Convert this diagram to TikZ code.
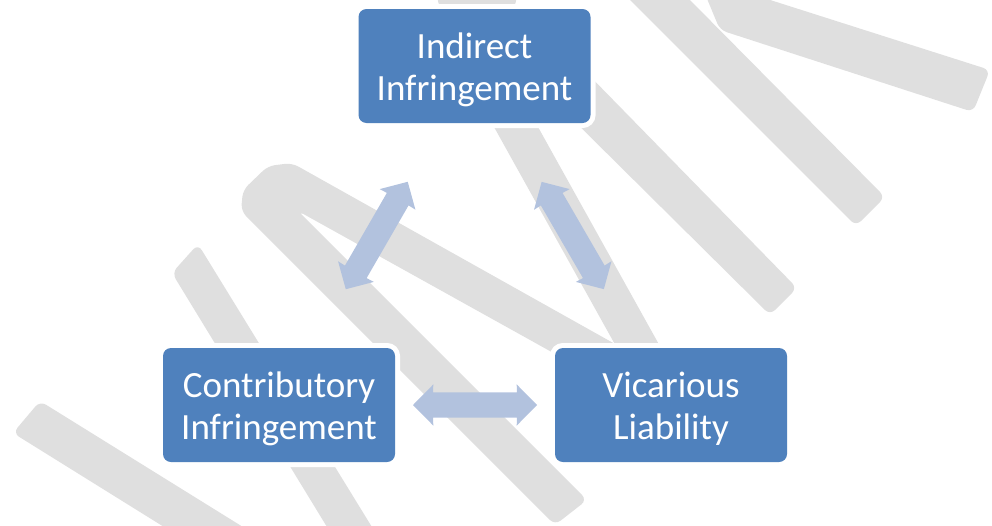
\documentclass[tikz,border=0pt]{standalone}
\usepackage{fontspec}
\setmainfont{Carlito}
\usetikzlibrary{calc}
\definecolor{boxblue}{RGB}{79,129,189}
\definecolor{arrowblue}{RGB}{178,194,222}
\definecolor{wmgray}{RGB}{223,223,223}
\newcommand\topstrut{\rule{0pt}{33pt}}
\tikzset{
  box/.style={rectangle, rounded corners=8pt, fill=boxblue, text=white,
    minimum width=232pt, minimum height=114pt, inner sep=0pt, align=center,
    font=\fontsize{37}{42}\selectfont,
    preaction={draw=white, line width=10pt}},
  band/.style={fill=wmgray, rounded corners=7pt},
  linkfill/.style={fill=arrowblue},
}
\newcommand\linkarrow[2]{%
  \fill[linkfill] ($(#1)!62pt!(#2)$) -- ($(#1)!46.5pt!26.3:(#2)$)
    -- ($(#1)!43.8pt!16.6:(#2)$) -- ($(#1)!43.8pt!163.4:(#2)$)
    -- ($(#1)!46.5pt!153.7:(#2)$) -- ($(#1)!62pt!180:(#2)$)
    -- ($(#1)!46.5pt!-153.7:(#2)$) -- ($(#1)!43.8pt!-163.4:(#2)$)
    -- ($(#1)!43.8pt!-16.6:(#2)$) -- ($(#1)!46.5pt!-26.3:(#2)$) -- cycle;}
\begin{document}
\begin{tikzpicture}[x=1pt,y=-1pt]
\useasboundingbox (0,0) rectangle (992,525);
\clip (0,0) rectangle (992,525);
% watermark strokes
\fill[band] (625,-5) -- (685,-5) -- (885,197) -- (856,226) -- cycle;
\fill[band] (698,-23) -- (990,70) -- (973,112) -- (720,30) -- cycle;
\fill[band] (553,100) -- (580,66) -- (797,288) -- (770,315) -- cycle;
\fill[band] (479,100) -- (523,100) -- (701,420) -- (657,420) -- cycle;
\fill[band] (436,-5) -- (518,-5) -- (512,14) -- (442,14) -- cycle;
\fill[band] (172,273) -- (198,244) -- (383,545) -- (338,545) -- cycle;
\fill[band] (13,433) -- (40,401) -- (272,545) -- (193,545) -- cycle;
\fill[band] (555,525) -- (241,211) -- (243,190) -- (268,166) -- (292,163)
  -- (640,358) -- (620,390) -- (298,211) -- (587,500) -- cycle;
% boxes
\node[box] (i) at (474.5,66) {\topstrut Indirect\\Infringement};
\node[box] (c) at (279,405) {\topstrut Contributory\\Infringement};
\node[box] (v) at (671,405) {\topstrut Vicarious\\Liability};
\coordinate (ci) at ($(c)!0.5!(i)$);
\coordinate (iv) at ($(i)!0.5!(v)$);
\coordinate (cv) at ($(c)!0.5!(v)$);
\linkarrow{ci}{i}
\linkarrow{iv}{v}
\linkarrow{cv}{v}
\end{tikzpicture}
\end{document}
